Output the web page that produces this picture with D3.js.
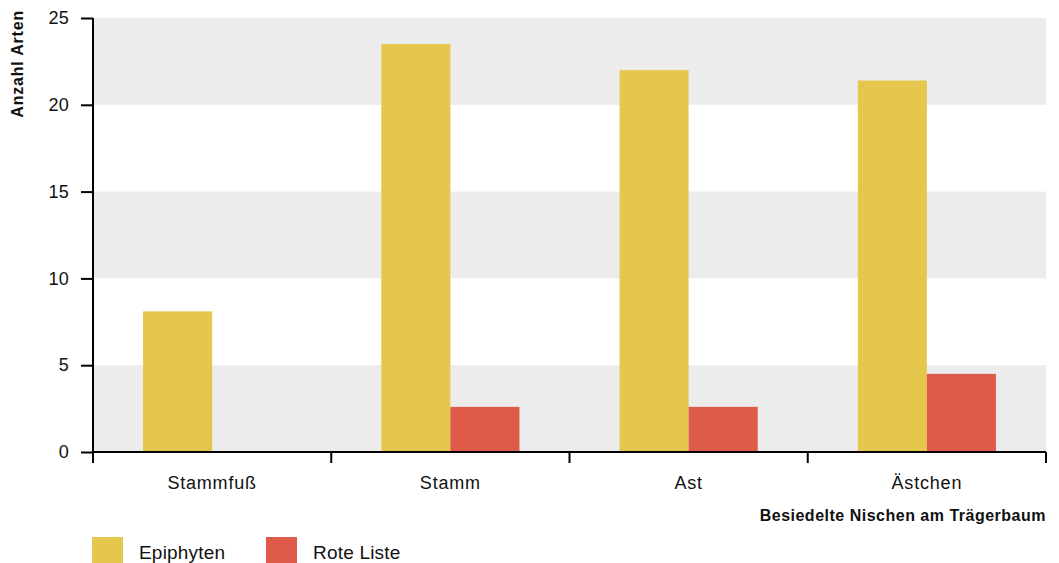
<!DOCTYPE html>
<html>
<head>
<meta charset="utf-8">
<script src="https://cdn.jsdelivr.net/npm/d3@7"></script>
<style>
  html, body { margin: 0; padding: 0; background: #fff; }
  svg { display: block; font-family: "Liberation Sans", Arial, sans-serif; }
</style>
</head>
<body>
<svg id="chart" width="1059" height="563"></svg>
<script>
// Niches on the host tree and the number of species found in each
const categories = ["Stammfuß", "Stamm", "Ast", "Ästchen"];
const seriesNames = ["Epiphyten", "Rote Liste"];
const epiphyten = [8.1, 23.5, 22, 21.4];
const roteListe = [0, 2.6, 2.6, 4.5];
const yTicks = [0, 5, 10, 15, 20, 25];
const colors = ["#E6C74E", "#DF5B49"];

const rows = categories.map((c, i) => ({ cat: c, values: [epiphyten[i], roteListe[i]] }));

const svg = d3.select("#chart");
const m = { left: 93, right: 13, top: 18, bottom: 111 };
const W = 1059, H = 563;
const x0 = m.left, x1 = W - m.right, y0 = H - m.bottom, yTop = m.top;

const x = d3.scaleBand().domain(categories).range([x0, x1]).padding(0);
const xs = d3.scaleBand().domain(seriesNames).range([0, x.bandwidth()])
  .paddingInner(0).paddingOuter(0.7246);
const y = d3.scaleLinear().domain([0, 25]).range([y0, yTop]);

// alternating background bands
const bands = [[0, 5], [10, 15], [20, 25]];
svg.append("g").selectAll("rect").data(bands).join("rect")
  .attr("x", x0).attr("width", x1 - x0)
  .attr("y", d => y(d[1])).attr("height", d => y(d[0]) - y(d[1]))
  .attr("fill", "#ECECEC");

// grouped bars
const g = svg.append("g").selectAll("g").data(rows).join("g")
  .attr("transform", d => `translate(${x(d.cat)},0)`);
g.selectAll("rect").data(d => d.values.map((v, i) => ({ v, i })))
  .join("rect")
  .attr("x", d => xs(seriesNames[d.i]))
  .attr("width", xs.bandwidth())
  .attr("y", d => y(d.v))
  .attr("height", d => y(0) - y(d.v))
  .attr("fill", d => colors[d.i]);

// y axis
const yAxis = svg.append("g").attr("transform", `translate(${x0},0)`)
  .call(d3.axisLeft(y).tickValues(yTicks).tickSize(12).tickPadding(12));
yAxis.select(".domain").attr("d", `M0,${yTop}V${y0 + 11}`).attr("stroke-width", 2);
yAxis.selectAll(".tick line").attr("stroke-width", 2);
yAxis.selectAll("text").attr("font-size", 18).attr("fill", "#111")
  .attr("letter-spacing", 0.3)
  .attr("font-family", "Liberation Sans, Arial, sans-serif");

// x axis: ticks at the band boundaries, labels centred in each band
const xAxis = svg.append("g").attr("transform", `translate(0,${y0})`);
xAxis.append("line").attr("x1", x0).attr("x2", x1).attr("stroke", "#000").attr("stroke-width", 2);
const edges = categories.map(c => x(c)).concat([x1]);
xAxis.selectAll("line.tk").data(edges).join("line").attr("class", "tk")
  .attr("x1", d => d).attr("x2", d => d).attr("y1", 0).attr("y2", 11)
  .attr("stroke", "#000").attr("stroke-width", 2);
xAxis.selectAll("text").data(categories).join("text")
  .attr("x", d => x(d) + x.bandwidth() / 2).attr("y", 37)
  .attr("text-anchor", "middle").attr("font-size", 18).attr("fill", "#111")
  .attr("letter-spacing", 0.8)
  .text(d => d);

// axis titles
svg.append("text").attr("x", x1).attr("y", 521).attr("text-anchor", "end")
  .attr("font-size", 16).attr("font-weight", "bold").attr("fill", "#111")
  .attr("letter-spacing", 0.5)
  .text("Besiedelte Nischen am Trägerbaum");
svg.append("text").attr("transform", "translate(23,10) rotate(-90)")
  .attr("text-anchor", "end").attr("font-size", 16).attr("font-weight", "bold")
  .attr("letter-spacing", 0.8)
  .attr("fill", "#111").text("Anzahl Arten");

// legend
const legendX = [92, 266];
const lg = svg.append("g").selectAll("g").data(seriesNames).join("g")
  .attr("transform", (d, i) => `translate(${legendX[i]},537)`);
lg.append("rect").attr("width", 31).attr("height", 27).attr("fill", (d, i) => colors[i]);
lg.append("text").attr("x", 47).attr("y", 22).attr("font-size", 19).attr("fill", "#111")
  .attr("letter-spacing", 0.2)
  .text(d => d);
</script>
</body>
</html>
